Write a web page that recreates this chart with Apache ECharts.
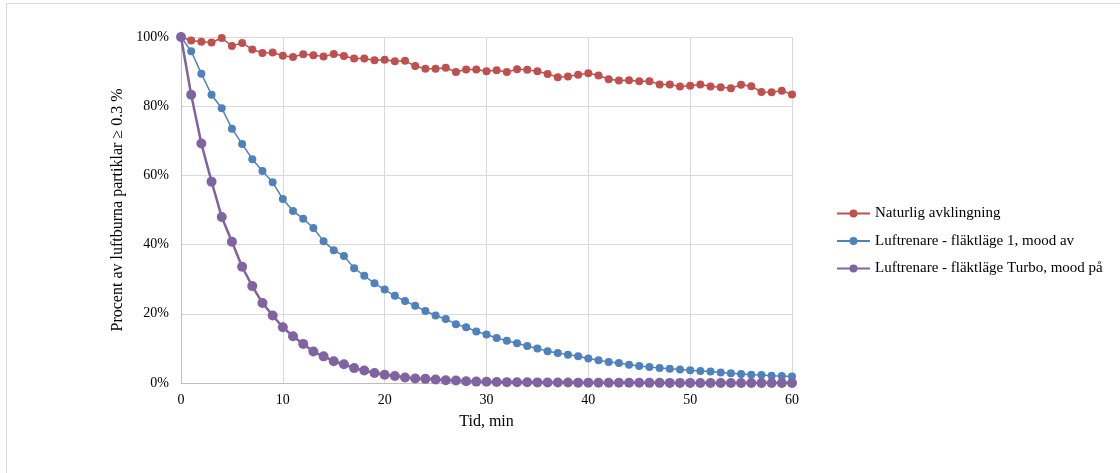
<!DOCTYPE html>
<html><head><meta charset="utf-8">
<script src="https://cdn.jsdelivr.net/npm/echarts@6/dist/echarts.min.js"></script>
<style>
html,body{margin:0;padding:0;background:#fff;overflow:hidden;}
#frame{position:absolute;left:6px;top:3px;width:1300px;height:700px;border:1px solid #d9d9d9;box-sizing:border-box;}
#c{position:absolute;left:0;top:0;width:1120px;height:473px;}
</style></head>
<body>
<div id="frame"></div>
<div id="c"></div>
<script>
const minutes = Array.from({length: 61}, (_, i) => i);
const naturlig = [100, 99.0, 98.6, 98.4, 99.7, 97.4, 98.3, 96.4, 95.4, 95.5, 94.6, 94.2, 95.0, 94.7, 94.4, 95.1, 94.5, 93.8, 93.8, 93.3, 93.4, 93.0, 93.1, 91.6, 90.8, 90.8, 91.1, 89.9, 90.6, 90.6, 90.1, 90.4, 89.9, 90.7, 90.5, 90.1, 89.3, 88.4, 88.6, 89.1, 89.5, 88.9, 87.8, 87.4, 87.5, 87.2, 87.2, 86.3, 86.3, 85.7, 85.9, 86.3, 85.7, 85.5, 85.2, 86.2, 85.8, 84.1, 84.0, 84.5, 83.4];
const lage1 = [100, 95.9, 89.4, 83.3, 79.4, 73.5, 69.1, 64.7, 61.3, 58.0, 53.2, 49.7, 47.5, 44.8, 41.0, 38.4, 36.7, 33.2, 31.0, 28.8, 27.0, 25.2, 23.7, 22.3, 20.8, 19.5, 18.5, 17.0, 16.1, 14.9, 14.0, 13.0, 12.2, 11.5, 10.7, 10.0, 9.2, 8.7, 8.2, 7.7, 7.1, 6.6, 6.1, 5.8, 5.3, 4.9, 4.6, 4.3, 4.1, 3.9, 3.7, 3.5, 3.3, 3.0, 2.8, 2.6, 2.4, 2.3, 2.1, 2.0, 1.9];
const turbo = [100, 83.3, 69.2, 58.2, 48.0, 40.8, 33.6, 28.0, 23.1, 19.5, 16.1, 13.5, 11.3, 9.1, 7.7, 6.3, 5.4, 4.3, 3.6, 2.9, 2.4, 2.0, 1.6, 1.3, 1.2, 1.0, 0.8, 0.7, 0.5, 0.4, 0.35, 0.3, 0.25, 0.22, 0.2, 0.18, 0.15, 0.13, 0.12, 0.1, 0.1, 0.08, 0.07, 0.06, 0.05, 0.05, 0.04, 0.04, 0.03, 0.03, 0.03, 0.02, 0.02, 0.02, 0.02, 0.01, 0.01, 0.01, 0.01, 0.01, 0.01];
const seriesNames = ['Naturlig avklingning', 'Luftrenare - fläktläge 1, mood av', 'Luftrenare - fläktläge Turbo, mood på'];
const colors = ['#C0504D', '#4F81BD', '#8064A2'];
const xTitle = 'Tid, min';
const yTitle = 'Procent av luftburna partiklar \u2265 0.3 %';

const font = '"Liberation Serif", "Times New Roman", serif';
const pair = arr => arr.map((v, i) => [minutes[i], v]);
const chart = echarts.init(document.getElementById('c'), null, {renderer: 'canvas'});
const mk = (name, data, color, lw, sym) => ({
  name, type: 'line', data: pair(data), color,
  lineStyle: {width: lw, color}, itemStyle: {color},
  symbol: 'circle', symbolSize: sym, showSymbol: true, animation: false
});
chart.setOption({
  animation: false,
  textStyle: {fontFamily: font},
  grid: {left: 181, right: 1120 - 792, top: 37, bottom: 473 - 383},
  legend: {
    orient: 'vertical', left: 831, top: 201, itemGap: 12.5,
    itemWidth: 33, itemHeight: 10,
    textStyle: {fontFamily: font, fontSize: 15, color: '#000'},
    data: seriesNames
  },
  xAxis: {
    type: 'value', min: 0, max: 60, interval: 10,
    name: xTitle, nameLocation: 'middle', nameGap: 31,
    nameTextStyle: {fontFamily: font, fontSize: 16, color: '#000'},
    axisLine: {show: true, lineStyle: {color: '#bfbfbf'}},
    axisTick: {show: false},
    axisLabel: {fontFamily: font, fontSize: 14, color: '#000', margin: 10},
    splitLine: {show: true, lineStyle: {color: '#d9d9d9'}}
  },
  yAxis: {
    type: 'value', min: 0, max: 100, interval: 20,
    name: yTitle, nameLocation: 'middle', nameGap: 53, nameRotate: 90,
    nameTextStyle: {fontFamily: font, fontSize: 16, color: '#000'},
    axisLine: {show: true, lineStyle: {color: '#bfbfbf'}},
    axisTick: {show: false},
    axisLabel: {fontFamily: font, fontSize: 14, color: '#000', formatter: v => v + '%', margin: 12},
    splitLine: {show: true, lineStyle: {color: '#d9d9d9'}}
  },
  series: [
    mk(seriesNames[0], naturlig, colors[0], 1.5, 8),
    mk(seriesNames[1], lage1, colors[1], 1.5, 8),
    mk(seriesNames[2], turbo, colors[2], 2.5, 10)
  ]
});
</script>
</body></html>
